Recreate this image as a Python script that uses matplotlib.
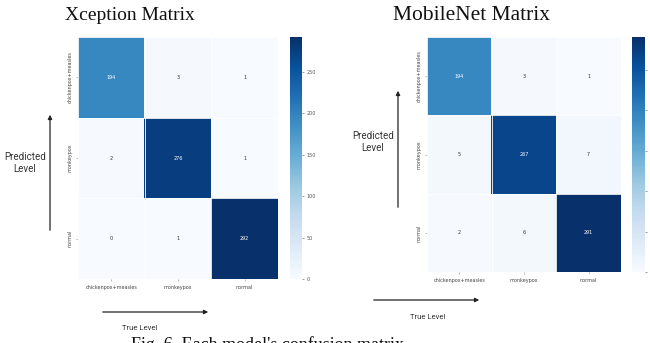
import numpy as np
import matplotlib
matplotlib.use("Agg")
import matplotlib.pyplot as plt

classes = ["chickenpox+measles", "monkeypox", "normal"]
xception_cm = [[194, 3, 1],
               [2, 276, 1],
               [0, 1, 292]]
mobilenet_cm = [[194, 3, 1],
                [5, 267, 7],
                [2, 6, 291]]
cbar_ticks = [0, 50, 100, 150, 200, 250]

fig = plt.figure(figsize=(6.5, 3.43), dpi=100)
W, H = 650, 343


def px_axes(x0, y0, x1, y1):
    # pixel box (top-left origin) -> figure axes
    return fig.add_axes([x0 / W, 1 - y1 / H, (x1 - x0) / W, (y1 - y0) / H])


def draw_matrix(box, cbox, cm, title, title_x, title_size):
    cm = np.array(cm)
    ax = px_axes(*box)
    im = ax.imshow(cm, cmap="Blues", vmin=0, vmax=cm.max(), aspect="auto")
    n = len(classes)
    for k in range(n + 1):
        ax.axhline(k - 0.5, color="white", lw=0.6)
        ax.axvline(k - 0.5, color="white", lw=0.6)
    for i in range(n):
        for j in range(n):
            v = cm[i, j]
            ax.text(j, i, str(v), ha="center", va="center", fontsize=3.5,
                    color="white" if v > cm.max() / 2 else "#333333")
    ax.set_xticks(range(n))
    ax.set_yticks(range(n))
    ax.set_xticklabels(classes, fontsize=3.5, color="#444444")
    ax.set_yticklabels(classes, fontsize=3.5, color="#444444", rotation=90, va="center")
    ax.tick_params(length=1.5, width=0.4, color="#888888", pad=2.5)
    for s in ax.spines.values():
        s.set_visible(False)

    cax = px_axes(*cbox)
    cb = fig.colorbar(im, cax=cax)
    cb.set_ticks(cbar_ticks)
    cb.ax.tick_params(labelsize=3.5, length=1.5, width=0.4, colors="#555555", pad=1.5)
    cb.outline.set_visible(False)

    fig.text(title_x / W, 1 - 16 / H, title, family="Liberation Serif",
             fontsize=title_size, ha="center", va="center", color="#111111")


draw_matrix((78, 37, 278, 279), (290, 37, 302, 279), xception_cm, "Xception Matrix", 130, 14)
draw_matrix((427, 37, 621, 272), (632, 37, 645, 272), mobilenet_cm, "MobileNet Matrix", 471, 15.5)


def arrow(x0, y0, x1, y1):
    fig.add_artist(matplotlib.patches.FancyArrowPatch(
        (x0 / W, 1 - y0 / H), (x1 / W, 1 - y1 / H), transform=fig.transFigure,
        arrowstyle="-|>", mutation_scale=6, lw=0.9, color="#222222"))


# y-axis captions with upward arrows
fig.text(25 / W, 1 - 163 / H, "Predicted\nLevel", fontsize=7, ha="center", va="center",
         color="#333333", family="Roboto", linespacing=1.3)
arrow(50, 233, 50, 112)
fig.text(373 / W, 1 - 142 / H, "Predicted\nLevel", fontsize=7, ha="center", va="center",
         color="#333333", family="Roboto", linespacing=1.3)
arrow(398, 210, 398, 88)

# x-axis captions with rightward arrows
arrow(100, 312, 211, 312)
fig.text(140 / W, 1 - 328 / H, "True Level", fontsize=5.5, ha="center", va="center",
         color="#333333", family="Roboto")
arrow(371, 300, 482, 300)
fig.text(428 / W, 1 - 317 / H, "True Level", fontsize=5.5, ha="center", va="center",
         color="#333333", family="Roboto")

fig.text(267 / W, 1 - 336 / H, "Fig. 6. Each model's confusion matrix", family="Liberation Serif",
         fontsize=13, ha="center", va="top", color="#111111")

fig.savefig("out.png", dpi=100)
